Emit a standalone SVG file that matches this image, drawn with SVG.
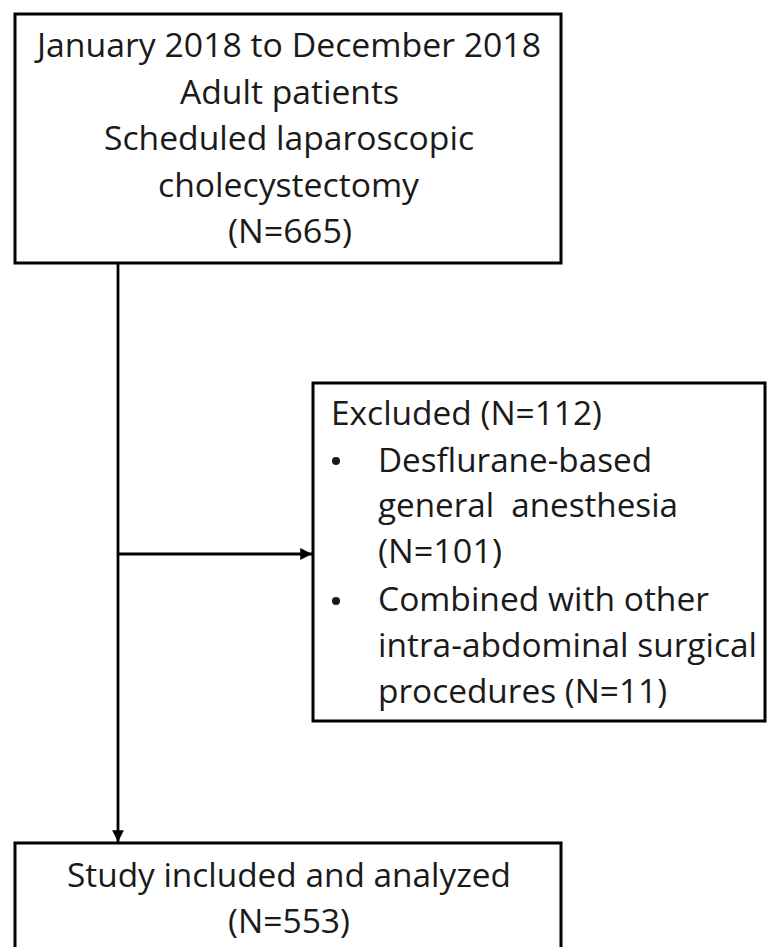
<svg xmlns="http://www.w3.org/2000/svg" width="768" height="947" viewBox="0 0 768 947">
<style>
  .box { fill: #ffffff; stroke: #000000; stroke-width: 3; }
  .edge { fill: none; stroke: #000000; stroke-width: 2.8; }
  text { font-family: "Open Sans", "Noto Sans", sans-serif; font-size: 33px; fill: #1a1a1a; }
  .c { text-anchor: middle; }
</style>
<defs>
  <marker id="arrow" viewBox="0 0 10 10" refX="10" refY="5" markerWidth="4.2" markerHeight="4.2" markerUnits="strokeWidth" orient="auto">
    <path d="M0,0 L10,5 L0,10 Z" fill="#000000"/>
  </marker>
</defs>
<rect x="0" y="0" width="768" height="947" fill="#ffffff"/>
<g id="connectors">
  <line class="edge" x1="118" y1="263" x2="118" y2="842" marker-end="url(#arrow)"/>
  <line class="edge" x1="118" y1="554" x2="312" y2="554" marker-end="url(#arrow)"/>
</g>
<g id="node-start">
  <rect class="box" x="15" y="14" width="546" height="249"/>
  <text class="c" x="289" y="57" textLength="504" lengthAdjust="spacingAndGlyphs">January 2018 to December 2018</text>
  <text class="c" x="289.5" y="103.5" textLength="219" lengthAdjust="spacingAndGlyphs">Adult patients</text>
  <text class="c" x="289" y="150" textLength="370" lengthAdjust="spacingAndGlyphs">Scheduled laparoscopic</text>
  <text class="c" x="288.5" y="196.5" textLength="261" lengthAdjust="spacingAndGlyphs">cholecystectomy</text>
  <text class="c" x="290" y="243" textLength="124" lengthAdjust="spacingAndGlyphs">(N=665)</text>
</g>
<g id="node-excluded">
  <rect class="box" x="313" y="383" width="452" height="338"/>
  <text x="331" y="425" textLength="271" lengthAdjust="spacingAndGlyphs">Excluded (N=112)</text>
  <circle cx="336" cy="461" r="4" fill="#1a1a1a"/>
  <text x="378" y="472" textLength="274" lengthAdjust="spacingAndGlyphs">Desflurane-based</text>
  <text x="378" y="517" textLength="300" lengthAdjust="spacingAndGlyphs" xml:space="preserve">general  anesthesia</text>
  <text x="378" y="563" textLength="124" lengthAdjust="spacingAndGlyphs">(N=101)</text>
  <circle cx="336" cy="601" r="4" fill="#1a1a1a"/>
  <text x="378" y="611" textLength="331" lengthAdjust="spacingAndGlyphs">Combined with other</text>
  <text x="378" y="657" textLength="379" lengthAdjust="spacingAndGlyphs">intra-abdominal surgical</text>
  <text x="378" y="703" textLength="289" lengthAdjust="spacingAndGlyphs">procedures (N=11)</text>
</g>
<g id="node-included">
  <rect class="box" x="15" y="843" width="546" height="120"/>
  <text class="c" x="289" y="887" textLength="444" lengthAdjust="spacingAndGlyphs">Study included and analyzed</text>
  <text class="c" x="289" y="933" textLength="122" lengthAdjust="spacingAndGlyphs">(N=553)</text>
</g>
</svg>
